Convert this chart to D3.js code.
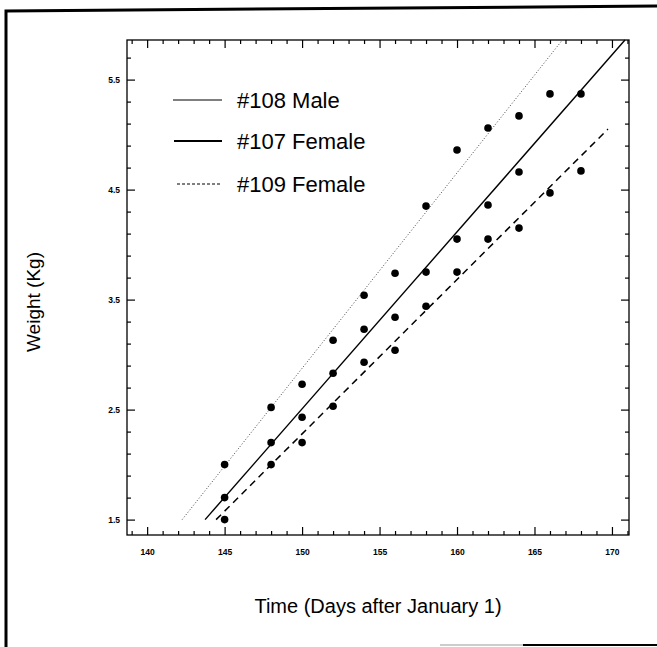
<!DOCTYPE html>
<html><head><meta charset="utf-8">
<script src="https://cdn.jsdelivr.net/npm/d3@7"></script>
<style>
html,body{margin:0;padding:0;background:#fff;}
svg{display:block;font-family:"Liberation Sans",Arial,Helvetica,sans-serif;}
</style></head>
<body><svg id="c" width="657" height="647"></svg>
<script>
// ---- data ----
const days = [145,148,150,152,154,156,158,160,162,164,166,168];
const male108   = [2.0,2.52,2.73,3.13,3.54,3.74,4.35,4.86,5.06,5.17,5.37,null];
const female107 = [1.7,2.2,2.43,2.83,3.23,3.34,3.75,4.05,4.36,4.66,null,5.37];
const female109 = [1.5,2.0,2.2,2.53,2.93,3.04,3.44,3.75,4.05,4.15,4.47,4.67];
const fit108 = [[142.26,1.5],[166.8,5.86]];
const fit107 = [[143.74,1.5],[170.84,5.86]];
const fit109 = [[144.45,1.5],[169.74,5.05]];
const xMajor = [140,145,150,155,160,165,170];
const yMajor = [1.5,2.5,3.5,4.5,5.5];
const xLabels = ["140","145","150","155","160","165","170"];
const yLabels = ["1.5","2.5","3.5","4.5","5.5"];
const legendNames = ["#108 Male","#107 Female","#109 Female"];
const xTitle = "Time (Days after January 1)";
const yTitle = "Weight (Kg)";

const svg = d3.select("#c");
const L=127, R=629, T=40, B=535;
const x = d3.scaleLinear().domain([138.7,171.1]).range([L,R]);
const y = d3.scaleLinear().domain([1.36,5.86]).range([B,T]);

// outer page border
svg.append("path").attr("d","M6,647 L6,11 L657,6").attr("fill","none").attr("stroke","#000").attr("stroke-width",3);
svg.append("line").attr("x1",440).attr("x2",523).attr("y1",645).attr("y2",645).attr("stroke","#bbb").attr("stroke-width",1.5);
svg.append("line").attr("x1",523).attr("x2",657).attr("y1",645).attr("y2",645).attr("stroke","#000").attr("stroke-width",2);

// frame
svg.append("rect").attr("x",L).attr("y",T).attr("width",R-L).attr("height",B-T)
  .attr("fill","none").attr("stroke","#000").attr("stroke-width",1.3);

const xMinor = d3.range(139,172,1).filter(v=>v%5!==0);
const yMinor = d3.range(1.5,5.9,0.2).map(v=>+v.toFixed(1)).filter(v=>Math.abs((v-1.5)%1)>0.01 && Math.abs((v-1.5)%1-1)>0.01);

function ax(gen, tr, vals, size, labels){
  const g = svg.append("g").attr("transform",tr).call(gen.tickValues(vals).tickSize(size).tickFormat(labels?((d,i)=>labels[i]):()=>""));
  g.select(".domain").remove();
  g.selectAll(".tick line").attr("stroke","#000").attr("stroke-width",1.2);
  return g;
}
// bottom
const gb = ax(d3.axisBottom(x),`translate(0,${B})`,xMajor,-8,xLabels);
gb.selectAll("text").attr("font-size",8.5).attr("font-weight","bold").attr("y",14).attr("dy","0.71em").attr("fill","#000");
ax(d3.axisBottom(x),`translate(0,${B})`,xMinor,-4,null);
// top
ax(d3.axisTop(x),`translate(0,${T})`,xMajor,-8,null);
ax(d3.axisTop(x),`translate(0,${T})`,xMinor,-4,null);
// left
const gl = ax(d3.axisLeft(y),`translate(${L},0)`,yMajor,-8,yLabels);
gl.selectAll("text").attr("font-size",8.5).attr("font-weight","bold").attr("x",-7).attr("fill","#000");
ax(d3.axisLeft(y),`translate(${L},0)`,yMinor,-4,null);
// right
ax(d3.axisRight(y),`translate(${R},0)`,yMajor,-8,null);
ax(d3.axisRight(y),`translate(${R},0)`,yMinor,-4,null);

// fit lines
const line = d3.line().x(d=>x(d[0])).y(d=>y(d[1]));
svg.append("path").attr("d",line(fit108)).attr("fill","none").attr("stroke","#444").attr("stroke-width",1).attr("stroke-dasharray","1,2");
svg.append("path").attr("d",line(fit107)).attr("fill","none").attr("stroke","#000").attr("stroke-width",1.4);
svg.append("path").attr("d",line(fit109)).attr("fill","none").attr("stroke","#000").attr("stroke-width",1.5).attr("stroke-dasharray","7,5");

// points
[male108,female107,female109].forEach(s=>{
  svg.append("g").selectAll("circle").data(days.map((d,i)=>[d,s[i]]).filter(d=>d[1]!=null))
    .join("circle").attr("cx",d=>x(d[0])).attr("cy",d=>y(d[1])).attr("r",3.8).attr("fill","#000");
});

// legend
const legY=[100,141,184];
const lg = svg.append("g");
lg.append("line").attr("x1",173).attr("x2",222).attr("y1",legY[0]).attr("y2",legY[0]).attr("stroke","#000").attr("stroke-width",1.2);
lg.append("line").attr("x1",174).attr("x2",222).attr("y1",legY[1]).attr("y2",legY[1]).attr("stroke","#000").attr("stroke-width",2);
lg.append("line").attr("x1",177).attr("x2",222).attr("y1",legY[2]).attr("y2",legY[2]).attr("stroke","#000").attr("stroke-width",1.2).attr("stroke-dasharray","3,2");
legendNames.forEach((n,i)=>{
  lg.append("text").attr("x",237).attr("y",legY[i]).attr("dy","0.36em").attr("font-size",22).attr("fill","#000").text(n);
});

// titles
svg.append("text").attr("x",378).attr("y",606).attr("dy","0.35em").attr("text-anchor","middle").attr("font-size",20).text(xTitle);
svg.append("text").attr("transform","translate(33,302) rotate(-90)").attr("dy","0.35em").attr("text-anchor","middle").attr("font-size",19).text(yTitle);
</script></body></html>
